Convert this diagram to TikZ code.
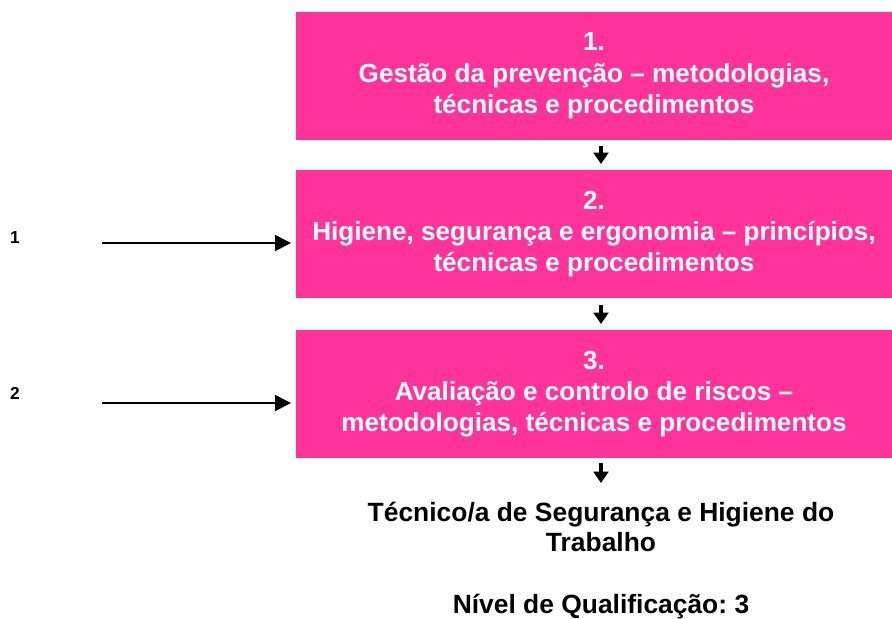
\documentclass[tikz,border=0pt]{standalone}
\usepackage{fontspec}
\setmainfont{Liberation Sans}
\usetikzlibrary{arrows.meta}
\definecolor{boxpink}{HTML}{FF3399}
\frenchspacing
\begin{document}
\begin{tikzpicture}[x=0.75pt,y=-0.75pt,
  pinkbox/.style={fill=boxpink, draw=none, minimum width=596*0.75pt, minimum height=128*0.75pt, inner sep=0pt, align=center, text=white, font=\bfseries\fontsize{19.6}{23.5}\selectfont},
  smallarr/.style={-{Triangle[length=8.5pt,width=11pt]}, line width=2.4pt},
  longarr/.style={-{Triangle[length=12pt,width=12pt]}, line width=1.4pt},
  lbl/.style={font=\bfseries\fontsize{13}{15}\selectfont, inner sep=0pt},
  outtxt/.style={font=\bfseries\fontsize{19.8}{22.5}\selectfont, align=center, inner sep=0pt}]
\useasboundingbox (0,0) rectangle (892,618);
\node[pinkbox] (b1) at (594,76) {1.\\Gestão da prevenção – metodologias,\\técnicas e procedimentos};
\node[pinkbox] (b2) at (594,234) {2.\\Higiene, segurança e ergonomia – princípios,\\técnicas e procedimentos};
\node[pinkbox] (b3) at (594,394) {3.\\Avaliação e controlo de riscos –\\metodologias, técnicas e procedimentos};
\node[outtxt] (t1) at (601,527) {Técnico/a de Segurança e Higiene do\\Trabalho};
\node[outtxt] (t2) at (601,607) {Nível de Qualificação: 3};
\node[lbl] (l1) at (15,238) {1};
\node[lbl] (l2) at (15,393) {2};
\coordinate (s1) at (102,243);
\coordinate (s2) at (102,403);
\coordinate (e1) at (291,243);
\coordinate (e2) at (291,403);
\draw[longarr] (s1) -- (e1);
\draw[longarr] (s2) -- (e2);
\draw[smallarr] (601,146) -- (601,164);
\draw[smallarr] (601,305) -- (601,324);
\draw[smallarr] (601,463) -- (601,483);
\end{tikzpicture}
\end{document}
